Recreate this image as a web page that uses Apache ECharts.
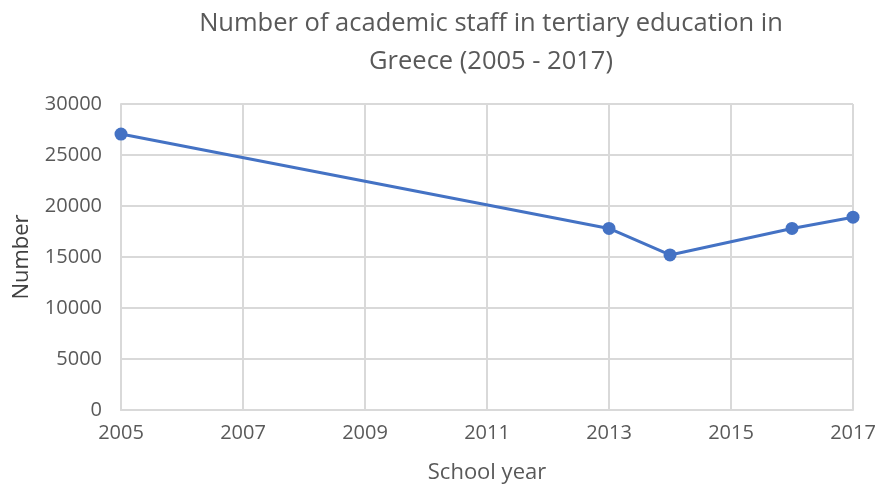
<!DOCTYPE html>
<html>
<head>
<meta charset="utf-8">
<script src="https://cdn.jsdelivr.net/npm/echarts@6/dist/echarts.min.js"></script>
<style>
  html, body { margin: 0; padding: 0; background: #fff; }
  #chart { width: 881px; height: 484px; }
</style>
</head>
<body>
<div id="chart"></div>
<script>
// Academic staff in Greek tertiary education by school year
const years = [2005, 2013, 2014, 2016, 2017];
const staff = [27050, 17800, 15200, 17800, 18900];
const chartTitle = 'Number of academic staff in tertiary education in\nGreece (2005 - 2017)';
const xName = 'School year';
const yName = 'Number';

const textColor = '#595959';
const nameColor = '#404040';
const gridColor = '#d9d9d9';
const lineColor = '#4472c4';
const font = '"Open Sans", "Liberation Sans", sans-serif';

const chart = echarts.init(document.getElementById('chart'));
chart.setOption({
  animation: false,
  title: {
    text: chartTitle,
    // anchored at the horizontal centre of the plot area
    left: 491,
    textAlign: 'center',
    top: 5,
    padding: 0,
    textStyle: {
      color: textColor, fontSize: 25.5, fontWeight: 'normal',
      fontFamily: font, lineHeight: 38
    }
  },
  grid: { left: 121, right: 28, top: 104, bottom: 74, outerBoundsMode: 'none', containLabel: false },
  xAxis: {
    type: 'value',
    min: 2005, max: 2017, interval: 2,
    name: xName,
    nameLocation: 'middle',
    nameGap: 52,
    nameTextStyle: { color: textColor, fontSize: 22, fontFamily: font },
    axisLine: { show: true, lineStyle: { color: gridColor, width: 2 } },
    axisTick: { show: false },
    axisLabel: {
      color: textColor, fontSize: 20, fontFamily: font, margin: 13,
      formatter: v => String(v)
    },
    splitLine: { show: true, lineStyle: { color: gridColor, width: 2 } }
  },
  yAxis: {
    type: 'value',
    min: 0, max: 30000, interval: 5000,
    name: yName,
    nameLocation: 'middle',
    nameGap: 88,
    nameTextStyle: { color: nameColor, fontSize: 22, fontFamily: font },
    axisLine: { show: true, lineStyle: { color: gridColor, width: 2 } },
    axisTick: { show: false },
    axisLabel: {
      color: textColor, fontSize: 20, fontFamily: font, margin: 19,
      formatter: v => String(v)
    },
    splitLine: { show: true, lineStyle: { color: gridColor, width: 2 } }
  },
  series: [{
    type: 'line',
    data: years.map((y, i) => [y, staff[i]]),
    symbol: 'circle',
    symbolSize: 13,
    lineStyle: { color: lineColor, width: 3 },
    itemStyle: { color: lineColor },
    clip: false
  }]
});
</script>
</body>
</html>
